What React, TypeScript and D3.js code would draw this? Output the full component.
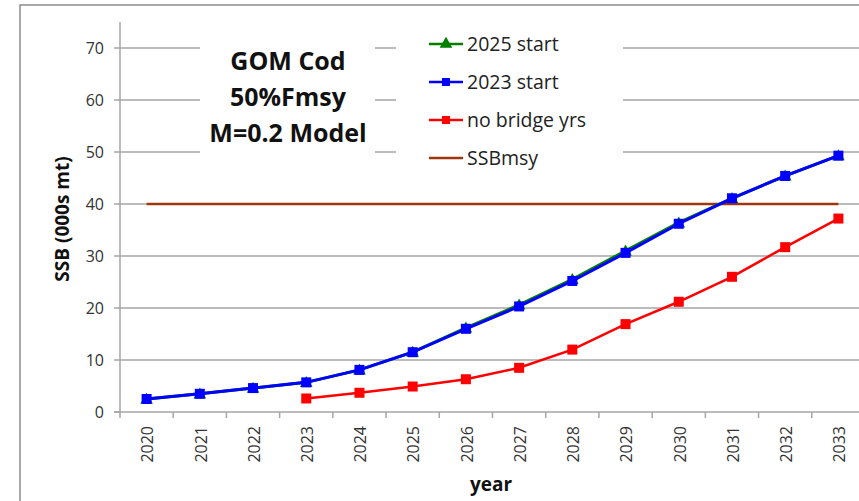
import React from "react";
import * as d3 from "d3";

const years = [2020, 2021, 2022, 2023, 2024, 2025, 2026, 2027, 2028, 2029, 2030, 2031, 2032, 2033];
const start2025 = [2.5, 3.5, 4.6, 5.7, 8.1, 11.5, 16.2, 20.6, 25.5, 31.0, 36.4, 41.1, 45.4, 49.3];
const start2023 = [2.5, 3.5, 4.6, 5.7, 8.1, 11.5, 16.0, 20.3, 25.2, 30.6, 36.2, 41.1, 45.4, 49.3];
const noBridgeYears = [2023, 2024, 2025, 2026, 2027, 2028, 2029, 2030, 2031, 2032, 2033];
const noBridge = [2.6, 3.7, 4.9, 6.3, 8.5, 12.0, 16.9, 21.2, 26.0, 31.7, 37.2];
const ssbmsy = 40;
const yTicks = [0, 10, 20, 30, 40, 50, 60, 70];
const titleLines = ["GOM Cod", "50%Fmsy", "M=0.2 Model"];
const legendLabels = ["2025 start", "2023 start", "no bridge yrs", "SSBmsy"];

const FONT = "'Open Sans', 'Noto Sans', sans-serif";
const GRID = "#a6a6a6";

export default function App() {
  const x = d3.scaleBand<number>().domain(years).range([120, 865]).paddingInner(0).paddingOuter(0);
  const y = d3.scaleLinear().domain([0, 75]).range([412, 22]);
  const cx = (yr: number) => (x(yr) as number) + x.bandwidth() / 2;
  const line = d3.line<[number, number]>().x((d) => cx(d[0])).y((d) => y(d[1]));

  const green = years.map((yr, i) => [yr, start2025[i]] as [number, number]);
  const blue = years.map((yr, i) => [yr, start2023[i]] as [number, number]);
  const red = noBridgeYears.map((yr, i) => [yr, noBridge[i]] as [number, number]);

  const tri = d3.symbol().type(d3.symbolTriangle).size(70)() as string;
  const boundaries = [...years.map((yr) => x(yr) as number), 865];

  const legendY = [44, 82, 120, 158];
  const colors = ["#008000", "#0000ff", "#ff0000", "#a0360f"];

  return (
    <svg width={859} height={501} style={{ position: "absolute", left: 0, top: 0, fontFamily: FONT }}>
      <rect x={0} y={0} width={859} height={501} fill="#ffffff" />
      <rect x={20} y={5} width={900} height={600} fill="#ffffff" stroke="#8c8c8c" strokeWidth={1.5} />
      {/* gridlines */}
      {yTicks.filter((t) => t > 0).map((t) => (
        <line key={t} x1={120} x2={865} y1={y(t)} y2={y(t)} stroke={GRID} strokeWidth={1.5} />
      ))}
      {/* axes */}
      <line x1={120} x2={120} y1={22} y2={412} stroke={GRID} strokeWidth={1.5} />
      <line x1={114} x2={865} y1={y(0)} y2={y(0)} stroke={GRID} strokeWidth={1.5} />
      {yTicks.map((t) => (
        <g key={t}>
          <line x1={114} x2={120} y1={y(t)} y2={y(t)} stroke={GRID} strokeWidth={1.5} />
          <text x={104} y={y(t)} dy="0.36em" textAnchor="end" fontSize={16} fill="#333">{t}</text>
        </g>
      ))}
      {boundaries.map((b, i) => (
        <line key={i} x1={b} x2={b} y1={412} y2={418} stroke={GRID} strokeWidth={1.5} />
      ))}
      {years.map((yr) => (
        <text key={yr} transform={`translate(${cx(yr) + 1},${426}) rotate(-90)`} dy="0.36em" textAnchor="end" fontSize={16} fill="#333">{yr}</text>
      ))}
      <text transform={`translate(62,219) rotate(-90)`} dy="0.36em" textAnchor="middle" fontSize={19} fontWeight="bold" fill="#111">SSB (000s  mt)</text>
      <text x={491} y={491} textAnchor="middle" fontSize={19} fontWeight="bold" fill="#111">year</text>

      {/* title and legend boxes */}
      <rect x={200} y={28} width={175} height={150} fill="#ffffff" />
      <rect x={396} y={26} width={227} height={152} fill="#ffffff" />
      {titleLines.map((t, i) => (
        <text key={t} x={288} y={70 + i * 36} textAnchor="middle" fontSize={25} fontWeight="bold" fill="#111">{t}</text>
      ))}

      {/* SSBmsy */}
      <line x1={cx(years[0])} x2={cx(years[years.length - 1])} y1={y(ssbmsy)} y2={y(ssbmsy)} stroke={colors[3]} strokeWidth={2.5} />

      {/* series */}
      <path d={line(green) as string} fill="none" stroke={colors[0]} strokeWidth={3} />
      {green.map((d) => (
        <path key={d[0]} d={tri} transform={`translate(${cx(d[0])},${y(d[1]) + 1})`} fill={colors[0]} />
      ))}
      <path d={line(blue) as string} fill="none" stroke={colors[1]} strokeWidth={3} />
      {blue.map((d) => (
        <rect key={d[0]} x={cx(d[0]) - 5} y={y(d[1]) - 5} width={10} height={10} fill={colors[1]} />
      ))}
      <path d={line(red) as string} fill="none" stroke={colors[2]} strokeWidth={2.5} />
      {red.map((d) => (
        <rect key={d[0]} x={cx(d[0]) - 5} y={y(d[1]) - 5} width={10} height={10} fill={colors[2]} />
      ))}

      {/* legend */}
      {legendLabels.map((l, i) => (
        <g key={l}>
          <line x1={429} x2={463} y1={legendY[i]} y2={legendY[i]} stroke={colors[i]} strokeWidth={2.5} />
          {i === 0 && <path d={tri} transform={`translate(446,${legendY[i]})`} fill={colors[i]} />}
          {(i === 1 || i === 2) && <rect x={442} y={legendY[i] - 4} width={8} height={8} fill={colors[i]} />}
          <text x={467} y={legendY[i] + 7} fontSize={19.5} fill="#222">{l}</text>
        </g>
      ))}
    </svg>
  );
}
